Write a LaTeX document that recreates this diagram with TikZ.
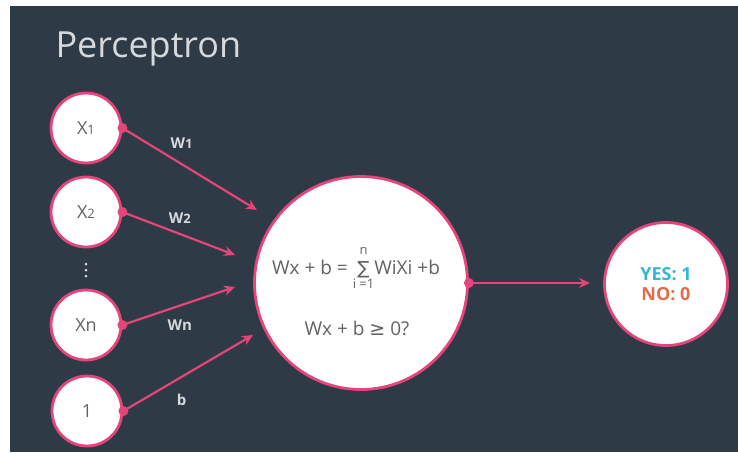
\documentclass[tikz,border=0pt]{standalone}
\usepackage{fontspec}
\setmainfont{Open Sans}
\newfontfamily\dvsym{DejaVu Sans}
\usepackage{xcolor}
\usetikzlibrary{arrows,arrows.meta}

\definecolor{slate}{HTML}{2E3A46}
\definecolor{rosepink}{HTML}{E5457B}
\definecolor{nodegray}{HTML}{636363}
\definecolor{labelgray}{HTML}{D6D9DC}
\definecolor{yescyan}{HTML}{35B6D3}
\definecolor{noorange}{HTML}{E36C4C}

\newcommand{\sm}[1]{{\fontsize{13}{13}\selectfont #1}}
\newcommand{\sumlimit}[2]{\raisebox{#1}{\fontsize{13}{13}\selectfont #2}}
\newcommand{\sumop}{\mathop{\hbox{\dvsym\fontsize{18}{18}\selectfont ∑}}\limits^{\sumlimit{5pt}{n}}_{\sumlimit{-5pt}{i =1}}}

\tikzset{wlabel/.style={text=labelgray,font=\fontsize{15}{15}\selectfont\bfseries}}

\begin{document}
\begin{tikzpicture}[x=1pt,y=-1pt]
\useasboundingbox (0,0) rectangle (738,452);
\fill[white] (0,0) rectangle (738,452);
\fill[slate] (10,6) rectangle (738,452);

\node[anchor=base west,text=labelgray,font=\fontsize{36}{36}\selectfont] (title) at (52,57) {Perceptron};

\begin{scope}[every node/.style={circle,fill=white,draw=rosepink,line width=2.8pt,
                                 text=nodegray,font=\fontsize{18}{18}\selectfont}]
    \node[minimum size=70] (x1) at (86,128) {X\sm{1}};
    \node[minimum size=70] (x2) at (86,212) {X\sm{2}};
    \node[minimum size=70] (xn) at (86,325) {Xn};
    \node[minimum size=70] (one) at (87,411) {1};
    \node[minimum size=213] (sum) at (361,283) {};
    \node[minimum size=123,align=center,font=\fontsize{18}{20}\selectfont\bfseries] (out) at (666,284)
        {\textcolor{yescyan}{YES: 1}\\\textcolor{noorange}{NO: 0}};
\end{scope}

% vertical ellipsis between x2 and xn
\foreach \y in {264,270,276}
    \fill[labelgray] (86,\y) circle (1.5);

\node[anchor=base,text=nodegray,font=\fontsize{19}{19}\selectfont] (eq) at (356,274)
    {Wx + b = $\sumop$WiXi +b};
\node[anchor=base,text=nodegray,font=\fontsize{19}{19}\selectfont] (test) at (357,335)
    {Wx + b {\dvsym≥} 0?};

% arrow tips stop short of the neuron
\coordinate (t1) at (257,210);
\coordinate (t2) at (235,255);
\coordinate (tn) at (235,287);
\coordinate (tb) at (253,335);
\coordinate (to) at (590,283);

\begin{scope}[>={Stealth[rosepink,length=11pt,width=10pt]},
              every edge/.style={draw=rosepink,line width=2.2pt}]
    \path [->] (x1.east) edge node[wlabel,pos=.44,yshift=21] {W\sm{1}} (t1);
    \path [->] (x2.east) edge node[wlabel,pos=.51,yshift=16] {W\sm{2}} (t2);
    \path [->] (xn.east) edge node[wlabel,pos=.51,yshift=-20] {Wn} (tn);
    \path [->] (one.east) edge node[wlabel,pos=.45,yshift=-23] {b} (tb);
    \path [->] (sum.east) edge (to);
\end{scope}

\foreach \n in {x1,x2,xn,one,sum}
    \fill[rosepink] (\n.east) circle (5);
\end{tikzpicture}
\end{document}
